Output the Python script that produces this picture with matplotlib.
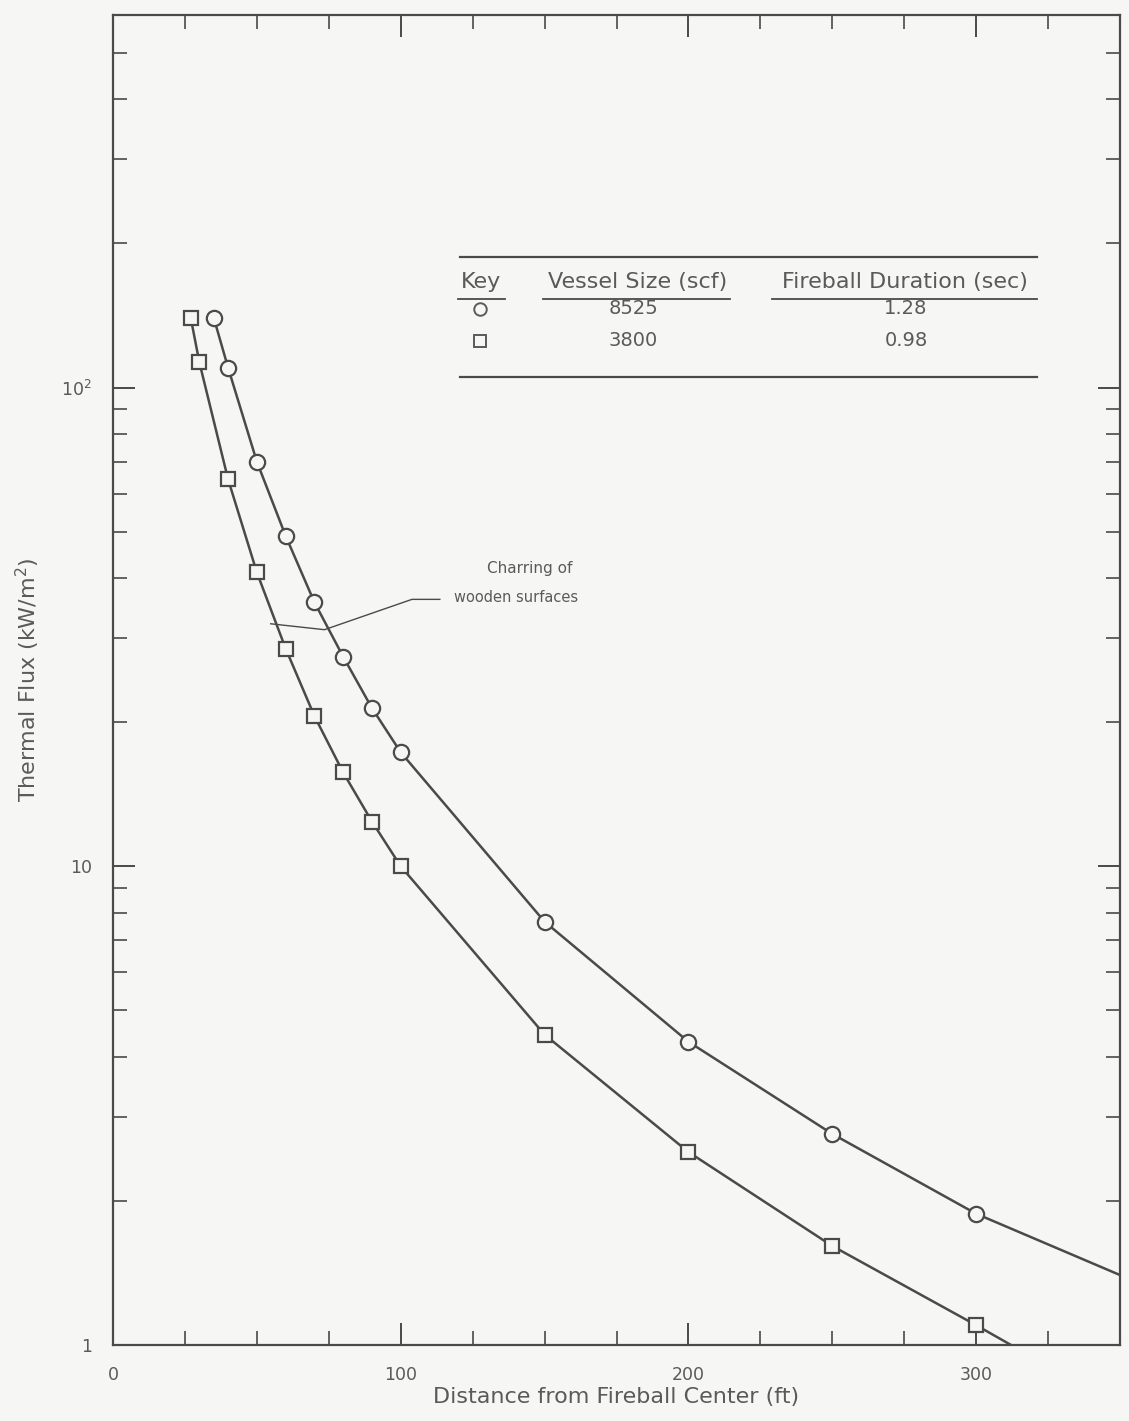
import matplotlib
matplotlib.use("Agg")
import matplotlib.pyplot as plt
from matplotlib.lines import Line2D
from matplotlib.ticker import LogLocator, FixedLocator, NullFormatter, FixedFormatter

# ---- data ----
dist_circle = [35, 40, 50, 60, 70, 80, 90, 100, 150, 200, 250, 300]
flux_circle = [140, 110, 70, 49, 35.6, 27.4, 21.4, 17.3, 7.66, 4.30, 2.76, 1.88]
dist_square = [27, 30, 40, 50, 60, 70, 80, 90, 100, 150, 200, 250, 300]
flux_square = [140, 113, 64.3, 41.1, 28.5, 20.6, 15.7, 12.4, 10.0, 4.45, 2.53, 1.61, 1.10]
# curve continuation past the last marker
tail_circle_x = [300, 350]
tail_circle_y = [1.88, 1.40]
tail_square_x = [300, 316]
tail_square_y = [1.10, 0.97]

leader_x = [113.6, 103.9, 73.5, 54.8]
leader_y = [36.1, 36.1, 31.2, 32.1]

x_ticks = [0, 100, 200, 300]
x_ticklabels = ["0", "100", "200", "300"]
x_minor = [25, 50, 75, 125, 150, 175, 225, 250, 275, 325]
y_ticks = [1, 10, 100]
y_ticklabels = ["1", "10", "10$^2$"]

table_headers = ["Key", "Vessel Size (scf)", "Fireball Duration (sec)"]
vessel_sizes = ["8525", "3800"]
durations = ["1.28", "0.98"]

# ---- style ----
BG = "#f6f6f4"
INK = "#4a4a4a"
TXT = "#5a5a5a"
plt.rcParams["font.family"] = ["DejaVu Sans"]

W, H = 1129, 1421
fig = plt.figure(figsize=(W / 100, H / 100), dpi=100, facecolor=BG)
L, R, T, B = 113, 1120, 15, 1345
ax = fig.add_axes([L / W, 1 - B / H, (R - L) / W, (B - T) / H])
ax.set_facecolor(BG)

ax.set_yscale("log")
ax.set_xlim(0, 350)
ax.set_ylim(1, 600)

# curves
ax.plot(dist_circle, flux_circle, color=INK, lw=1.8, zorder=2)
ax.plot(tail_circle_x, tail_circle_y, color=INK, lw=1.8, zorder=2)
ax.plot(dist_square, flux_square, color=INK, lw=1.8, zorder=2)
ax.plot(tail_square_x, tail_square_y, color=INK, lw=1.8, zorder=2)
ax.plot(dist_circle, flux_circle, ls="none", marker="o", ms=11, mfc=BG, mec=INK, mew=1.6, zorder=3)
ax.plot(dist_square, flux_square, ls="none", marker="s", ms=10.5, mfc=BG, mec=INK, mew=1.6, zorder=3)

# leader line
ax.plot(leader_x, leader_y, color=INK, lw=1.0, zorder=2)


def fx(px):
    return px / W


def fy(py):
    return 1 - py / H


fig.text(fx(530), fy(569), "Charring of", ha="center", va="center", fontsize=11, color=TXT)
fig.text(fx(454), fy(598), "wooden surfaces", ha="left", va="center", fontsize=10.5, color=TXT)

# axes styling
for s in ax.spines.values():
    s.set_color(INK)
    s.set_linewidth(1.6)

ax.xaxis.set_major_locator(FixedLocator(x_ticks))
ax.xaxis.set_major_formatter(FixedFormatter(x_ticklabels))
ax.xaxis.set_minor_locator(FixedLocator(x_minor))
ax.yaxis.set_major_locator(FixedLocator(y_ticks))
ax.yaxis.set_major_formatter(FixedFormatter(y_ticklabels))
ax.yaxis.set_minor_locator(LogLocator(base=10, subs=range(2, 10)))
ax.yaxis.set_minor_formatter(NullFormatter())

ax.tick_params(which="major", direction="in", length=16, width=1.4, color=INK,
               top=True, right=True, labelsize=12.5, labelcolor=TXT, pad=15)
ax.tick_params(which="minor", direction="in", length=10, width=1.2, color=INK,
               top=True, right=True)

ax.set_xlabel("Distance from Fireball Center (ft)", fontsize=16, color=TXT, labelpad=2)
ax.set_ylabel("Thermal Flux (kW/m$^2$)", fontsize=16, color=TXT, labelpad=14)

# ---- key table (figure pixel coordinates) ----
def hline(x0, x1, y, lw=1.6):
    fig.add_artist(Line2D([fx(x0), fx(x1)], [fy(y), fy(y)], color=INK, lw=lw))


hline(460, 1037, 257)
hline(460, 1037, 377)
hline(458, 505, 299, lw=1.3)
hline(543, 730, 299, lw=1.3)
hline(772, 1037, 299, lw=1.3)

col_x = [481, 638, 905]
for cx, h in zip(col_x, table_headers):
    fig.text(fx(cx), fy(282), h, ha="center", va="center", fontsize=16, color=TXT)

row_y = [309, 341]
fig.add_artist(Line2D([fx(480)], [fy(row_y[0])], marker="o", ms=9, mfc=BG, mec=TXT, mew=1.4, ls="none"))
fig.add_artist(Line2D([fx(480)], [fy(row_y[1])], marker="s", ms=8.5, mfc=BG, mec=TXT, mew=1.4, ls="none"))
for ry, v, d in zip(row_y, vessel_sizes, durations):
    fig.text(fx(633), fy(ry), v, ha="center", va="center", fontsize=14, color=TXT)
    fig.text(fx(906), fy(ry), d, ha="center", va="center", fontsize=14, color=TXT)

fig.savefig("out.png", dpi=100, facecolor=BG)
